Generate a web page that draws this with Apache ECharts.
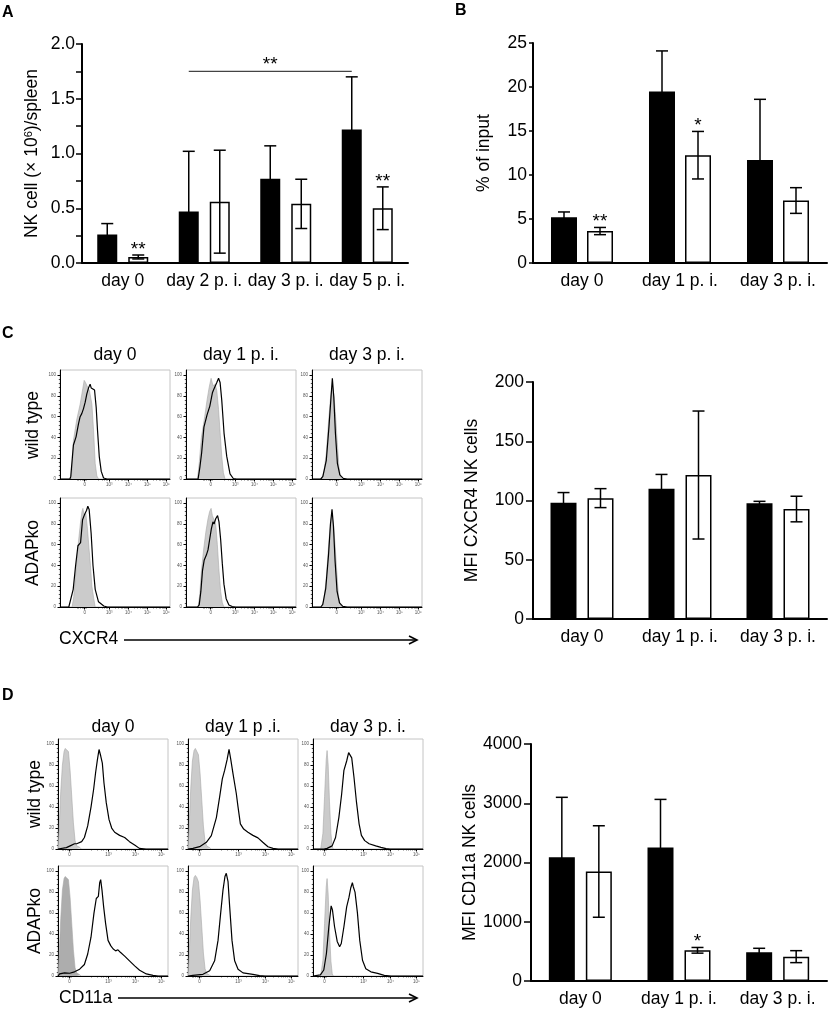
<!DOCTYPE html>
<html><head><meta charset="utf-8">
<script src="https://cdn.jsdelivr.net/npm/echarts@6/dist/echarts.min.js"></script>
<style>html,body{margin:0;padding:0;background:#fff}#c{width:829px;height:1009px}</style>
</head><body><div id="c"></div>
<script>
// ---------- Panel A ----------
const aCategories = ['day 0', 'day 2 p. i.', 'day 3 p. i.', 'day 5 p. i.'];
const aWildType = [0.26, 0.47, 0.77, 1.22];
const aWildTypeErr = [0.10, 0.55, 0.30, 0.48];
const aKnockout = [0.055, 0.56, 0.54, 0.50];
const aKnockoutErr = [0.018, 0.47, 0.225, 0.195];
const aStars = [[0, 1, 2], [3, 1, 2]];          // [category, side(1=ADAPko), count]
const aBracket = [1, 3, 1.75, 2];               // [fromCat, toCat, value, count]

// ---------- Panel B ----------
const bCategories = ['day 0', 'day 1 p. i.', 'day 3 p. i.'];
const bWildType = [5.2, 19.5, 11.7];
const bWildTypeErr = [0.6, 4.6, 6.9];
const bKnockout = [3.63, 12.25, 7.1];
const bKnockoutErr = [0.41, 2.7, 1.46];
const bStars = [[0, 1, 2], [1, 1, 1]];

// ---------- Panel C (bar) ----------
const cCategories = ['day 0', 'day 1 p. i.', 'day 3 p. i.'];
const cWildType = [98, 110, 97.6];
const cWildTypeErr = [8.7, 12, 1.7];
const cKnockout = [102, 121.5, 92.8];
const cKnockoutErr = [8, 54, 10.8];

// ---------- Panel D (bar) ----------
const dCategories = ['day 0', 'day 1 p. i.', 'day 3 p. i.'];
const dWildType = [2090, 2255, 485];
const dWildTypeErr = [1010, 810, 67];
const dKnockout = [1848, 518, 411];
const dKnockoutErr = [772, 48, 101];
const dStars = [[1, 1, 1]];

// ---------- Histogram texts / ticks ----------
const cColTitles = ['day 0', 'day 1 p. i.', 'day 3 p. i.'];
const dColTitles = ['day 0', 'day 1 p .i.', 'day 3 p. i.'];
const rowTitles = ['wild type', 'ADAPko'];
const histYTicks = [0, 20, 40, 60, 80, 100];
const cXTickPos = [22.4, 44.7, 62.3, 79.5, 96.6];
const cXTickText = ['0', '10³', '10⁴', '10⁵', '10⁶'];
const dXTickPos = [10.5, 46, 70.5, 94];
const dXTickText = ['0', '10³', '10⁴', '10⁵'];

// ---------- Histogram curves: [position % of plot width, % of max] ----------
const cWt0Fill = [[10,0],[11,10],[12.2,37],[15.2,57],[18.3,72],[20.7,87],[22,95],[23.2,93],[24.4,90],[26.8,85],[29,72],[30.5,47],[32,15],[33.5,3],[35,0]];
const cWt0Line = [[0,0],[9,0],[9.8,2.5],[11.3,21.6],[12.2,32.7],[14.6,40.6],[16.8,53],[18.3,60],[19.8,63],[21.3,67.6],[22.9,74],[24.4,82],[25.9,87.6],[27.4,91.4],[28.4,87.6],[29.6,88],[31.4,85.7],[32.9,69],[34.1,47],[35.7,21.6],[37.5,7.3],[39.6,1],[42.7,0],[100,0]];
const cWt1Fill = [[10.4,0],[12,15],[14,40],[17,60],[19,75],[21,88],[22.8,97],[24.5,90],[26.6,91],[28,85],[29.6,67],[31,45],[32.5,22],[34,6],[35.5,0]];
const cWt1Line = [[0,0],[11,0],[12.7,12],[14.2,25],[16.3,50],[19.2,62],[21.6,70],[24,83],[25.1,86],[26.3,85],[28,93],[29.6,97],[31,93],[32.5,76],[34.6,44],[37,22],[40,5],[43,0.5],[46,0],[100,0]];
const cWt3Fill = [[9,0],[11,8],[13,25],[15,55],[17,80],[18.5,90],[20,80],[21.5,60],[23,35],[24.5,12],[26,2],[27,0]];
const cWt3Line = [[0,0],[8,0],[9.9,2.5],[13,18],[15.4,50],[17.3,79],[18.5,97],[19.8,79],[21.3,44],[23.1,15],[25.3,4],[28.4,0.6],[32,0],[100,0]];
const cKo0Fill = [[11,0],[12.5,10],[14.5,35],[16.5,60],[18.5,80],[20,92],[20.8,95],[22,88],[23.5,90],[25,75],[26.5,55],[27.7,40],[29,20],[30.7,8],[32,0]];
const cKo0Line = [[0,0],[8,0],[9.6,1.5],[12,17],[14.2,40],[16.3,59],[18.7,62],[20.5,84],[22.3,89],[24.1,93],[25.3,97],[26.5,94],[28.3,71],[30,40],[32,17],[35,5],[39.8,1],[43,0],[100,0]];
const cKo1Fill = [[11,0],[12.5,12],[14,35],[16,55],[18,72],[20,85],[21.5,92],[22.8,95],[24,88],[25.5,89],[27,80],[28.5,60],[30,35],[31.5,15],[33,4],[34.5,0]];
const cKo1Line = [[0,0],[10.5,0],[12,2],[13.5,15],[15,35],[16.5,45],[18.5,50],[20,55],[21.5,65],[23,75],[24.5,82],[25.5,80],[27,85],[28.7,88],[30,82],[31.5,65],[33,42],[34.5,22],[36.5,8],[39,2],[42,0.5],[45,0],[100,0]];
const cKo3Fill = [[9,0],[11,8],[13,28],[15,58],[16.8,82],[18,88],[19.5,80],[21,60],[22.5,35],[24,12],[25.5,3],[27,0]];
const cKo3Line = [[0,0],[8,0],[9.8,2.5],[12.5,18],[15,50],[16.8,80],[18.2,94],[19.5,78],[21,44],[22.8,15],[25,4],[28,0.6],[32,0],[100,0]];

const dWt0Fill = [[0,0],[1,20],[2.5,55],[4,80],[5.5,93],[6.5,96],[8,97],[9.5,93],[11,75],[12.5,50],[14,25],[15.5,8],[17,3],[18.5,4],[20,1.5],[21,0]];
const dWt0Line = [[0,0],[1.5,0.6],[7.6,1.3],[12,3.5],[15,5],[17,5],[21.5,7],[24,11],[27,22],[30,40],[32.4,57],[34.2,73],[35.8,85],[37.3,95],[38.8,89],[40.3,82],[41.8,63],[43.9,44],[46.4,28],[48.8,20],[51.5,16],[56,13],[60.6,11],[65,7],[70,3.5],[74,0.6],[80,0],[100,0]];
const dWt1Fill = [[0,0],[1,22],[2.5,58],[4,84],[5.5,94],[6.7,96],[8,95],[9.5,90],[11,72],[12.5,47],[14,22],[15.5,7],[17,3],[18.5,3],[20,1],[21,0]];
const dWt1Line = [[0,0],[4.5,0.6],[10.6,2.2],[16.7,6.4],[21.2,12.8],[25.8,30],[28.8,50],[31.2,67],[33.3,75],[35.5,85],[37.3,95],[38.8,86],[40.9,72],[43.9,53],[45.5,40],[47.6,24],[50.6,19],[54.5,16],[59,13],[63.6,10.6],[68,6.4],[72.7,2.2],[77.3,0.6],[82,0],[100,0]];
const dWt3Fill = [[7,0],[9,15],[10.5,50],[12,85],[12.8,94],[13.8,80],[15,45],[16.3,15],[17.5,2],[18.5,0]];
const dWt3Line = [[0,0],[10,0],[12.8,0.6],[17.4,3],[20.5,11],[23.5,30],[26,52],[28.1,75],[30.6,84],[32.4,92],[33.6,93],[35.2,87],[37.3,68],[39.4,46],[41.9,24],[44,13],[47,8],[51,5],[57,3],[61.8,1.5],[66.4,0.3],[70,0],[100,0]];
const dKo0Fill = [[0,0],[1,20],[2.5,55],[4,82],[5.5,93],[6.5,95],[8,96],[9.5,92],[11,75],[12.5,50],[14,25],[15.5,8],[17,3],[18.5,3],[20,1],[21,0]];
const dKo0Line = [[0,0],[1.5,2],[6,3],[10.6,2.6],[15,4],[19.7,6.5],[24,11],[27,21],[30,37],[32.7,60],[34.8,74],[36.7,76],[37.9,89],[38.8,92],[40,82],[41.5,66],[43.3,50],[45.5,34],[47.9,29],[50,26],[52.4,24],[54.5,25],[56.7,22.6],[60.6,19],[65,14.5],[69.7,9.7],[74.2,5.5],[80.3,2],[86.4,0.6],[91,0],[100,0]];
const dKo1Fill = [[0,0],[1,20],[2.5,55],[4,82],[5.5,94],[6.7,96],[8,94],[9.5,90],[11,72],[12.5,47],[14,22],[15.5,7],[17,2.5],[18.5,2],[20,0.5],[21,0]];
const dKo1Line = [[0,0],[4.5,0.6],[13.6,1.6],[19.7,5],[24.2,14.5],[27.3,34],[29.7,60],[31.8,82],[33.6,95],[34.8,98],[36.4,90],[37.9,66],[40,34],[42.4,14.5],[45.5,6.5],[50,3],[54.5,2.3],[59,1.6],[65,0.3],[70,0],[100,0]];
const dKo3Fill = [[7,0],[9,15],[10.5,50],[12,85],[12.8,93],[13.8,78],[15,42],[16.3,14],[17.5,2],[18.5,0]];
const dKo3Line = [[0,0],[6.7,1],[9.8,5.7],[12.2,21.5],[14.4,47],[16.5,67],[17.7,63],[19.6,47],[22,33],[24.2,28],[25.7,31],[28.1,47],[30.6,66],[32.7,75],[34.3,84],[35.8,89],[36.7,85],[38.2,80],[40.4,60],[42.5,34],[45,15],[48,7],[52.6,4],[58.7,2.5],[64.8,0.6],[71,0],[100,0]];

// ================= build =================
const FONT = "'Liberation Sans', Arial, Helvetica, sans-serif";
const grid = [], xAxis = [], yAxis = [], series = [], graphic = [];
const LOGF = [0.301, 0.477, 0.602, 0.699, 0.778, 0.845, 0.903, 0.954];

function errRender(off) {
  return function (params, api) {
    const c = api.value(0), m = api.value(1), e = api.value(2), s = api.value(3);
    const hi = api.coord([c, m + e]), lo = api.coord([c, Math.max(0, m - e)]);
    const x = hi[0] + s * off, cap = 6;
    const st = { stroke: '#000', lineWidth: 1.5 };
    return { type: 'group', children: [
      { type: 'line', shape: { x1: x, y1: hi[1], x2: x, y2: lo[1] }, style: st },
      { type: 'line', shape: { x1: x - cap, y1: hi[1], x2: x + cap, y2: hi[1] }, style: st },
      { type: 'line', shape: { x1: x - cap, y1: lo[1], x2: x + cap, y2: lo[1] }, style: st }
    ]};
  };
}
function starRender(off) {
  return function (params, api) {
    const p = api.coord([api.value(0), api.value(1)]);
    return { type: 'text', x: p[0] + api.value(2) * off, y: p[1] + 4,
      style: { text: '*'.repeat(api.value(3)), fontSize: 19, fontFamily: FONT, fill: '#000', align: 'center', verticalAlign: 'bottom' } };
  };
}
function bracketRender(off) {
  return function (params, api) {
    const a = api.coord([api.value(0), api.value(2)]), b = api.coord([api.value(1), api.value(2)]);
    const x1 = a[0] - off, x2 = b[0] - off;
    return { type: 'group', children: [
      { type: 'line', shape: { x1: x1, y1: a[1], x2: x2, y2: a[1] }, style: { stroke: '#444', lineWidth: 1.2 } },
      { type: 'text', x: (x1 + x2) / 2, y: a[1] + 3, style: { text: '*'.repeat(api.value(3)), fontSize: 19, fontFamily: FONT, fill: '#000', align: 'center', verticalAlign: 'bottom' } }
    ]};
  };
}

function barPanel(p) {
  const gi = grid.length;
  grid.push({ left: p.left, top: p.top, width: p.width, height: p.height, containLabel: false });
  const xi = xAxis.length, yi = yAxis.length;
  xAxis.push({ type: 'category', gridIndex: gi, data: p.cats,
    axisLine: { lineStyle: { color: '#000', width: 2 } },
    axisTick: { alignWithLabel: true, length: 6, lineStyle: { color: '#000', width: 2 } },
    axisLabel: { color: '#000', fontSize: 17.5, fontFamily: FONT, margin: 9, interval: 0 } });
  yAxis.push({ type: 'value', gridIndex: gi, min: 0, max: p.yMax, interval: p.yInterval,
    axisLine: { show: true, lineStyle: { color: '#000', width: 2 } },
    axisTick: { show: true, length: p.tickLen, lineStyle: { color: '#000', width: 1.5 } },
    axisLabel: { color: '#000', fontSize: 17.5, fontFamily: FONT, margin: p.labelMargin, formatter: p.yFmt },
    splitLine: { show: false },
    name: p.yName, nameLocation: 'middle', nameGap: p.nameGap,
    nameTextStyle: { color: '#000', fontSize: 17.5, fontFamily: FONT, rich: p.rich } });
  const off = (p.barWidth + p.gap) / 2;
  const barGap = (p.gap / p.barWidth * 100).toFixed(1) + '%';
  series.push({ type: 'bar', xAxisIndex: xi, yAxisIndex: yi, data: p.wt, barWidth: p.barWidth, barGap: barGap,
    itemStyle: { color: '#000', borderColor: '#000', borderWidth: 1.5 }, z: 2, silent: true });
  series.push({ type: 'bar', xAxisIndex: xi, yAxisIndex: yi, data: p.ko, barWidth: p.barWidth, barGap: barGap,
    itemStyle: { color: '#fff', borderColor: '#000', borderWidth: 1.5 }, z: 2, silent: true });
  const errData = p.wt.map((v, i) => [i, v, p.wtErr[i], -1]).concat(p.ko.map((v, i) => [i, v, p.koErr[i], 1]));
  series.push({ type: 'custom', xAxisIndex: xi, yAxisIndex: yi, data: errData, renderItem: errRender(off), z: 5, silent: true });
  if (p.stars) {
    const sd = p.stars.map(s => {
      const top = s[1] > 0 ? p.ko[s[0]] + p.koErr[s[0]] : p.wt[s[0]] + p.wtErr[s[0]];
      return [s[0], top, s[1], s[2]];
    });
    series.push({ type: 'custom', xAxisIndex: xi, yAxisIndex: yi, data: sd, renderItem: starRender(off), z: 6, silent: true });
  }
  if (p.bracket) {
    series.push({ type: 'custom', xAxisIndex: xi, yAxisIndex: yi, data: [p.bracket], renderItem: bracketRender(off), z: 6, silent: true,
      encode: { x: 0, y: 2 } });
  }
}

function histPanel(rect, fill, line, fillColor, tickPos, tickText) {
  const gi = grid.length;
  grid.push({ left: rect[0], top: rect[1], width: rect[2], height: rect[3], show: true,
    borderColor: '#c4c4c4', borderWidth: 1, backgroundColor: 'transparent', containLabel: false });
  const xi = xAxis.length, yi = yAxis.length;
  const minorX = [];
  const p0 = tickPos[0], p1 = tickPos[1];
  [2.5, 4, 5.5, 7].forEach(d => minorX.push(p0 - d));
  [-1.2, -0.6, 0.6, 1.2].forEach(d => minorX.push(p0 + d));
  [0.55, 0.7, 0.8, 0.87, 0.93].forEach(f => minorX.push(p0 + f * (p1 - p0)));
  for (let i = 1; i < tickPos.length - 1; i++) LOGF.forEach(f => minorX.push(tickPos[i] + f * (tickPos[i + 1] - tickPos[i])));
  const minorY = [];
  for (let v = 4; v < 104; v += 4) if (v % 20) minorY.push(v);
  xAxis.push({ type: 'value', gridIndex: gi, min: 0, max: 100, position: 'bottom',
    axisLine: { lineStyle: { color: '#000', width: 1 } },
    axisTick: { customValues: tickPos, length: 2.5, lineStyle: { color: '#000', width: 1 } },
    axisLabel: { customValues: tickPos, fontSize: 4.5, color: '#555', fontFamily: FONT, margin: 3,
      formatter: v => { let k = 0; tickPos.forEach((t, i) => { if (Math.abs(t - v) < Math.abs(tickPos[k] - v)) k = i; }); return tickText[k]; } },
    splitLine: { show: false } });
  xAxis.push({ type: 'value', gridIndex: gi, min: 0, max: 100, position: 'bottom',
    axisLine: { show: false }, axisLabel: { show: false }, splitLine: { show: false },
    axisTick: { customValues: minorX, length: 1.4, lineStyle: { color: '#000', width: 0.7 } } });
  yAxis.push({ type: 'value', gridIndex: gi, min: 0, max: 105, position: 'left',
    axisLine: { show: true, lineStyle: { color: '#000', width: 1 } },
    axisTick: { show: true, customValues: histYTicks, length: 2.5, lineStyle: { color: '#000', width: 1 } },
    axisLabel: { customValues: histYTicks, fontSize: 4.5, color: '#555', fontFamily: FONT, margin: 4 },
    splitLine: { show: false } });
  yAxis.push({ type: 'value', gridIndex: gi, min: 0, max: 105, position: 'left',
    axisLine: { show: false }, axisLabel: { show: false }, splitLine: { show: false },
    axisTick: { show: true, customValues: minorY, length: 1.2, lineStyle: { color: '#000', width: 0.7 } } });
  series.push({ type: 'line', xAxisIndex: xi, yAxisIndex: yi, data: fill, symbol: 'none', silent: true, z: 2,
    lineStyle: { color: '#a8a8a8', width: 0.6 }, areaStyle: { color: fillColor, opacity: 1 } });
  series.push({ type: 'line', xAxisIndex: xi, yAxisIndex: yi, data: line, symbol: 'none', silent: true, z: 3,
    lineStyle: { color: '#000', width: 1.2 } });
}

// ----- bar panels -----
barPanel({ left: 82, top: 44, width: 326, height: 219, cats: aCategories, wt: aWildType, wtErr: aWildTypeErr, ko: aKnockout, koErr: aKnockoutErr,
  yMax: 2, yInterval: 0.25, yFmt: v => (Math.abs(v * 2 - Math.round(v * 2)) < 1e-6 ? v.toFixed(1) : ''),
  yName: 'NK cell (× 10{sup|6})/spleen', rich: { sup: { fontSize: 11, fontFamily: FONT, color: '#000', padding: [0, 0, 8, 0] } },
  nameGap: 40, tickLen: 6, labelMargin: 7, barWidth: 20, gap: 11, stars: aStars, bracket: aBracket });
barPanel({ left: 533, top: 43, width: 294, height: 220, cats: bCategories, wt: bWildType, wtErr: bWildTypeErr, ko: bKnockout, koErr: bKnockoutErr,
  yMax: 25, yInterval: 5, yFmt: v => String(v), yName: '% of input', nameGap: 40, tickLen: 4, labelMargin: 6,
  barWidth: 26, gap: 10, stars: bStars });
barPanel({ left: 533, top: 382, width: 294, height: 237, cats: cCategories, wt: cWildType, wtErr: cWildTypeErr, ko: cKnockout, koErr: cKnockoutErr,
  yMax: 200, yInterval: 50, yFmt: v => String(v), yName: 'MFI CXCR4 NK cells', nameGap: 52, tickLen: 7, labelMargin: 9,
  barWidth: 26, gap: 11 });
barPanel({ left: 531, top: 744, width: 296, height: 237, cats: dCategories, wt: dWildType, wtErr: dWildTypeErr, ko: dKnockout, koErr: dKnockoutErr,
  yMax: 4000, yInterval: 1000, yFmt: v => String(v), yName: 'MFI CD11a NK cells', nameGap: 50, tickLen: 7, labelMargin: 9,
  barWidth: 26, gap: 11, stars: dStars });

// ----- histogram panels -----
const cLefts = [60, 186, 312], cTops = [370, 498];
const dLefts = [58, 188, 313], dTops = [739, 866];
const cCurves = [[cWt0Fill, cWt0Line], [cWt1Fill, cWt1Line], [cWt3Fill, cWt3Line], [cKo0Fill, cKo0Line], [cKo1Fill, cKo1Line], [cKo3Fill, cKo3Line]];
const dCurves = [[dWt0Fill, dWt0Line], [dWt1Fill, dWt1Line], [dWt3Fill, dWt3Line], [dKo0Fill, dKo0Line], [dKo1Fill, dKo1Line], [dKo3Fill, dKo3Line]];
for (let r = 0; r < 2; r++) for (let c = 0; c < 3; c++) {
  const k = r * 3 + c;
  histPanel([cLefts[c], cTops[r], 110, 109], cCurves[k][0], cCurves[k][1], '#cbcbcb', cXTickPos, cXTickText);
}
for (let r = 0; r < 2; r++) for (let c = 0; c < 3; c++) {
  const k = r * 3 + c;
  histPanel([dLefts[c], dTops[r], 110, 110], dCurves[k][0], dCurves[k][1], (r === 1 && c === 0) ? '#adadad' : '#cbcbcb', dXTickPos, dXTickText);
}

// ----- texts & arrows -----
function txt(text, x, y, opt) {
  graphic.push(Object.assign({ type: 'text', x: x, y: y, silent: true,
    style: Object.assign({ text: text, fontSize: 17.5, fontFamily: FONT, fill: '#000', align: 'center', verticalAlign: 'middle' }, opt && opt.style || {}) },
    opt && opt.rotation ? { rotation: opt.rotation } : {}));
}
const bold = { style: { fontWeight: 'bold', fontSize: 16, align: 'left' } };
txt('A', 2, 13, bold); txt('B', 455, 11, bold); txt('C', 2, 334, bold); txt('D', 2, 696, bold);
cColTitles.forEach((t, i) => txt(t, cLefts[i] + 55, 355));
dColTitles.forEach((t, i) => txt(t, dLefts[i] + 55, 727));
rowTitles.forEach((t, i) => txt(t, 33, cTops[i] + 55, { rotation: Math.PI / 2 }));
rowTitles.forEach((t, i) => txt(t, 35, dTops[i] + 55, { rotation: Math.PI / 2 }));
txt('CXCR4', 59, 639, { style: { align: 'left' } });
txt('CD11a', 59, 998, { style: { align: 'left' } });
function arrow(x1, x2, y) {
  graphic.push({ type: 'line', silent: true, shape: { x1: x1, y1: y, x2: x2, y2: y }, style: { stroke: '#000', lineWidth: 1.6 } });
  graphic.push({ type: 'polyline', silent: true, shape: { points: [[x2 - 8, y - 4], [x2, y], [x2 - 8, y + 4]] }, style: { stroke: '#000', lineWidth: 1.6, fill: null } });
}
arrow(124, 417, 640);
arrow(118, 417, 998);

const chart = echarts.init(document.getElementById('c'), null, { renderer: 'canvas' });
chart.setOption({ animation: false, backgroundColor: '#fff', grid, xAxis, yAxis, series, graphic });
</script>
</body></html>
